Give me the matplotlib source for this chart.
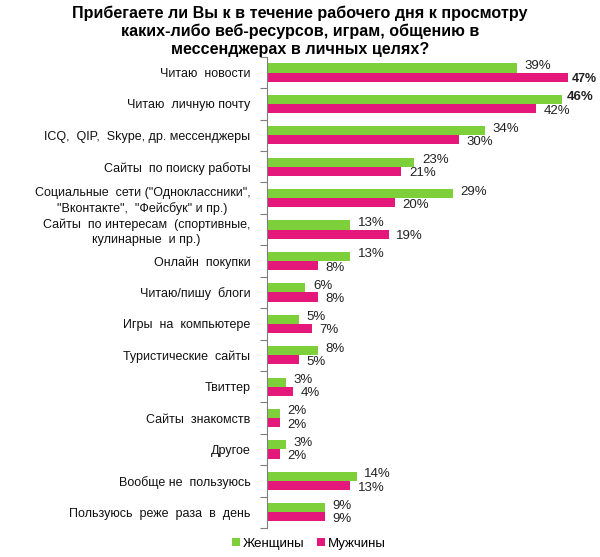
import matplotlib
matplotlib.use("Agg")
import matplotlib.pyplot as plt
import numpy as np

plt.rcParams['font.family'] = ['Liberation Sans', 'DejaVu Sans']

categories = [
    "Читаю  новости",
    "Читаю  личную почту",
    "ICQ,  QIP,  Skype, др. мессенджеры",
    "Сайты  по поиску работы",
    "Социальные  сети (\"Одноклассники\",\n\"Вконтакте\",  \"Фейсбук\" и пр.)",
    "Сайты  по интересам  (спортивные,\nкулинарные  и пр.)",
    "Онлайн  покупки",
    "Читаю/пишу  блоги",
    "Игры  на  компьютере",
    "Туристические  сайты",
    "Твиттер",
    "Сайты  знакомств",
    "Другое",
    "Вообще не  пользуюсь",
    "Пользуюсь  реже  раза  в  день",
]
women = [39, 46, 34, 23, 29, 13, 13, 6, 5, 8, 3, 2, 3, 14, 9]
men = [47, 42, 30, 21, 20, 19, 8, 8, 7, 5, 4, 2, 2, 13, 9]
series_names = ["Женщины", "Мужчины"]

green = "#7ed03b"
pink = "#e3187a"

fig = plt.figure(figsize=(6.0, 5.57), dpi=100)
ax = fig.add_axes([0.445, 0.052, 0.555, 0.846])

y = np.arange(len(categories))
h = 0.29
bw = ax.barh(y - h / 2, women, height=h, color=green, label=series_names[0])
bm = ax.barh(y + h / 2, men, height=h, color=pink, label=series_names[1])

ax.set_xlim(0, 52)
ax.set_ylim(len(categories) - 0.5, -0.5)

wmax = max(women)
mmax = max(men)
for yi, v in zip(y, women):
    bold = v == wmax
    ax.annotate(f"{v}%", (v, yi - h / 2), xytext=(3.5 if bold else 5.5, 1.5),
                textcoords="offset points", ha="left", va="center", fontsize=9.5,
                color="#222222", fontweight="bold" if bold else "normal")
for yi, v in zip(y, men):
    bold = v == mmax
    ax.annotate(f"{v}%", (v, yi + h / 2), xytext=(3.0 if bold else 5.5, -1.5),
                textcoords="offset points", ha="left", va="center",
                fontsize=9.0 if bold else 9.5,
                color="#222222", fontweight="bold" if bold else "normal")

ax.set_yticks(y)
ax.set_yticklabels(categories, fontsize=9.0, color="#111111")
for lab in ax.get_yticklabels():
    lab.set_multialignment("center")
    lab.set_linespacing(1.25)
ax.tick_params(axis="y", which="major", length=0, pad=12)
ax.set_yticks(np.arange(-0.5, len(categories), 1.0), minor=True)
ax.tick_params(axis="y", which="minor", length=5, width=0.8, color="#7f7f7f", direction="out")
ax.set_xticks([])
for s in ["top", "right", "bottom"]:
    ax.spines[s].set_visible(False)
ax.spines["left"].set_color("#7f7f7f")
ax.spines["left"].set_linewidth(0.8)

fig.suptitle("Прибегаете ли Вы к в течение рабочего дня к просмотру\n"
             "каких-либо веб-ресурсов, играм, общению в\n"
             "мессенджерах в личных целях?",
             x=0.5, y=0.99, fontsize=11.6, fontweight="bold", linespacing=1.22)

fig.legend(handles=[bw, bm], labels=series_names, loc="lower center",
           bbox_to_anchor=(0.515, -0.008), ncol=2, frameon=False, fontsize=9.5,
           handlelength=0.6, handleheight=0.6, handletextpad=0.2, columnspacing=1.0)

fig.savefig("out.png", dpi=100)
